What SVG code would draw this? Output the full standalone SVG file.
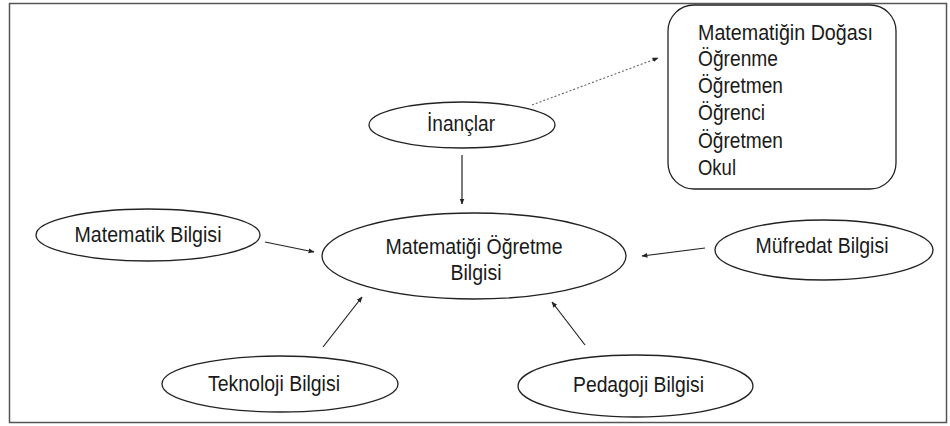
<svg xmlns="http://www.w3.org/2000/svg" width="950" height="426" viewBox="0 0 950 426">
<defs>
<style>
.n{fill:#fff;stroke:#222;stroke-width:1.3}
.t{font-family:"Liberation Sans",Arial,sans-serif;font-size:21.5px;fill:#1a1a1a}
.c{stroke:#222;stroke-width:1.2;fill:none}
.d{stroke:#666;stroke-width:1.1;fill:none;stroke-dasharray:2,2}
</style>
<marker id="ah" viewBox="0 0 10 10" refX="9" refY="5" markerWidth="6" markerHeight="6" markerUnits="userSpaceOnUse" orient="auto">
<path d="M0,1 L10,5 L0,9 z" fill="#222"/>
</marker>
</defs>
<rect x="0" y="0" width="950" height="426" fill="#fff"/>
<rect x="9.5" y="3.5" width="937" height="419" fill="none" stroke="#555" stroke-width="1.5"/>
<g id="connectors">
<line class="c" x1="462" y1="155" x2="462" y2="204" marker-end="url(#ah)"/>
<line class="d" x1="532" y1="105" x2="658" y2="58" marker-end="url(#ah)"/>
<line class="c" x1="265" y1="242" x2="314" y2="252" marker-end="url(#ah)"/>
<line class="c" x1="705" y1="248" x2="642" y2="256" marker-end="url(#ah)"/>
<line class="c" x1="323" y1="347" x2="362" y2="297" marker-end="url(#ah)"/>
<line class="c" x1="585" y1="345" x2="552" y2="302" marker-end="url(#ah)"/>
</g>
<g id="node-inanclar">
<ellipse class="n" cx="462" cy="125" rx="93" ry="23"/>
<text class="t" x="461" y="131" text-anchor="middle" textLength="68" lengthAdjust="spacingAndGlyphs">İnançlar</text>
</g>
<g id="node-inanc-listesi">
<rect class="n" x="668" y="5" width="228" height="184" rx="26" ry="26"/>
<text class="t" x="698" y="40" textLength="175" lengthAdjust="spacingAndGlyphs">Matematiğin Doğası</text>
<text class="t" x="698" y="66" textLength="80" lengthAdjust="spacingAndGlyphs">Öğrenme</text>
<text class="t" x="698" y="93" textLength="85" lengthAdjust="spacingAndGlyphs">Öğretmen</text>
<text class="t" x="698" y="120" textLength="67" lengthAdjust="spacingAndGlyphs">Öğrenci</text>
<text class="t" x="698" y="148" textLength="85" lengthAdjust="spacingAndGlyphs">Öğretmen</text>
<text class="t" x="698" y="175" textLength="38" lengthAdjust="spacingAndGlyphs">Okul</text>
</g>
<g id="node-merkez">
<ellipse class="n" cx="474" cy="256" rx="152" ry="43"/>
<text class="t" x="474" y="254" text-anchor="middle" textLength="177" lengthAdjust="spacingAndGlyphs">Matematiği Öğretme</text>
<text class="t" x="476" y="280" text-anchor="middle" textLength="51" lengthAdjust="spacingAndGlyphs">Bilgisi</text>
</g>
<g id="node-matematik">
<ellipse class="n" cx="148" cy="235" rx="112" ry="26"/>
<text class="t" x="148" y="242" text-anchor="middle" textLength="147" lengthAdjust="spacingAndGlyphs">Matematik Bilgisi</text>
</g>
<g id="node-mufredat">
<ellipse class="n" cx="824" cy="250" rx="109" ry="30"/>
<text class="t" x="822" y="253" text-anchor="middle" textLength="133" lengthAdjust="spacingAndGlyphs">Müfredat Bilgisi</text>
</g>
<g id="node-teknoloji">
<ellipse class="n" cx="280" cy="384" rx="118" ry="28"/>
<text class="t" x="274" y="391" text-anchor="middle" textLength="132" lengthAdjust="spacingAndGlyphs">Teknoloji Bilgisi</text>
</g>
<g id="node-pedagoji">
<ellipse class="n" cx="635.5" cy="386" rx="117.5" ry="31"/>
<text class="t" x="638.5" y="392" text-anchor="middle" textLength="131" lengthAdjust="spacingAndGlyphs">Pedagoji Bilgisi</text>
</g>
</svg>
